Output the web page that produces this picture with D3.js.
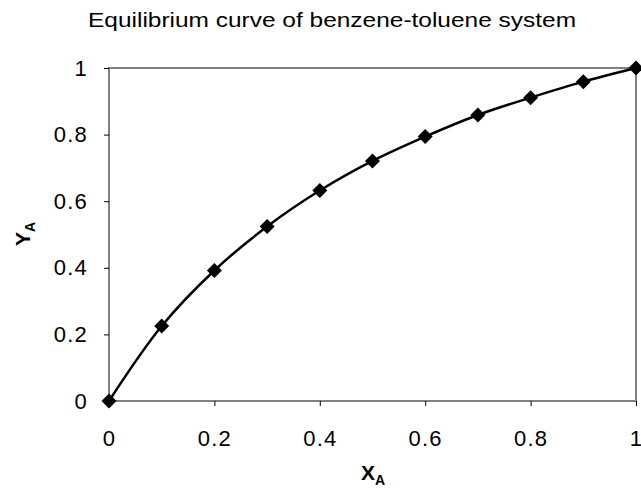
<!DOCTYPE html>
<html>
<head>
<meta charset="utf-8">
<script src="https://cdn.jsdelivr.net/npm/d3@7"></script>
<style>
  body { margin: 0; background: #fff; }
  text { font-family: "Liberation Sans", Arial, sans-serif; fill: #000; }
</style>
</head>
<body>
<svg id="chart" width="641" height="490"></svg>
<script>
// mole fraction of benzene in liquid (x) and vapour (y)
const xValues = [0, 0.1, 0.2, 0.3, 0.4, 0.5, 0.6, 0.7, 0.8, 0.9, 1.0];
const yValues = [0, 0.225, 0.392, 0.524, 0.632, 0.721, 0.794, 0.859, 0.911, 0.959, 1.0];
const xTicks = [0, 0.2, 0.4, 0.6, 0.8, 1];
const yTicks = [0, 0.2, 0.4, 0.6, 0.8, 1];

const margin = {left: 109, right: 5, top: 68, bottom: 89};
const width = 641, height = 490;

const svg = d3.select("#chart");

const xScale = d3.scaleLinear()
    .domain([0, 1])
    .range([margin.left, width - margin.right]);

const yScale = d3.scaleLinear()
    .domain([0, 1])
    .range([height - margin.bottom, margin.top]);

const points = xValues.map((x, i) => ({x: x, y: yValues[i]}));

// plot frame
svg.append("rect")
    .attr("x", xScale(0))
    .attr("y", yScale(1))
    .attr("width", xScale(1) - xScale(0))
    .attr("height", yScale(0) - yScale(1))
    .attr("fill", "none")
    .attr("stroke", "#808080")
    .attr("stroke-width", 2);

// axes
const xAxis = svg.append("g")
    .attr("transform", `translate(0, ${yScale(0)})`)
    .call(d3.axisBottom(xScale).tickValues(xTicks).tickSize(5).tickPadding(24)
        .tickFormat(d3.format("")));
xAxis.select(".domain").remove();
xAxis.selectAll("line").attr("stroke", "#000");
xAxis.selectAll("text")
    .style("font-size", "22px")
    .style("letter-spacing", "1.2px");

const yAxis = svg.append("g")
    .attr("transform", `translate(${xScale(0)}, 0)`)
    .call(d3.axisLeft(yScale).tickValues(yTicks).tickSize(5).tickPadding(16)
        .tickFormat(d3.format("")));
yAxis.select(".domain").remove();
yAxis.selectAll("line").attr("stroke", "#000");
yAxis.selectAll("text")
    .style("font-size", "22px")
    .style("letter-spacing", "1.2px");

// curve
const line = d3.line()
    .x(d => xScale(d.x))
    .y(d => yScale(d.y))
    .curve(d3.curveCatmullRom.alpha(0.5));

svg.append("path")
    .datum(points)
    .attr("d", line)
    .attr("fill", "none")
    .attr("stroke", "#000")
    .attr("stroke-width", 2.5);

// diamond markers
svg.selectAll("path.marker")
    .data(points)
    .join("path")
    .attr("class", "marker")
    .attr("d", "M0,-7.5L7.5,0L0,7.5L-7.5,0Z")
    .attr("transform", d => `translate(${xScale(d.x)}, ${yScale(d.y)})`)
    .attr("fill", "#000");

// title
svg.append("text")
    .attr("x", 332)
    .attr("y", 27)
    .attr("text-anchor", "middle")
    .attr("textLength", 488)
    .attr("lengthAdjust", "spacingAndGlyphs")
    .style("font-size", "21px")
    .text("Equilibrium curve of benzene-toluene system");

// axis labels
const xLabel = svg.append("text")
    .attr("x", 373)
    .attr("y", 480)
    .attr("text-anchor", "middle")
    .style("font-size", "21px")
    .style("font-weight", "bold");
xLabel.append("tspan").text("X");
xLabel.append("tspan").attr("dy", 5).style("font-size", "14px").text("A");

const yLabel = svg.append("text")
    .attr("transform", `translate(30, 234) rotate(-90)`)
    .attr("text-anchor", "middle")
    .style("font-size", "21px")
    .style("font-weight", "bold");
yLabel.append("tspan").text("Y");
yLabel.append("tspan").attr("dy", 5).style("font-size", "14px").text("A");
</script>
</body>
</html>
